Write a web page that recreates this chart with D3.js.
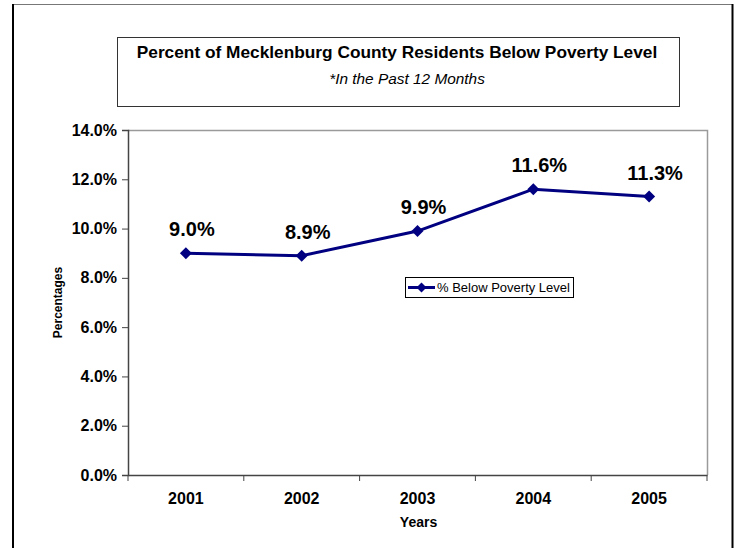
<!DOCTYPE html>
<html>
<head>
<meta charset="utf-8">
<script src="https://cdn.jsdelivr.net/npm/d3@7"></script>
<style>
  html, body { margin: 0; padding: 0; background: #fff; }
  svg { display: block; font-family: "Liberation Sans", Arial, sans-serif; }
</style>
</head>
<body>
<svg id="chart" width="734" height="548"></svg>
<script>
// Poverty rate by year
const years = ["2001", "2002", "2003", "2004", "2005"];
const povertyPct = [9.0, 8.9, 9.9, 11.6, 11.3];
const yTicks = [0, 2, 4, 6, 8, 10, 12, 14];
const titleText = "Percent of Mecklenburg County Residents Below Poverty Level";
const subtitleText = "*In the Past 12 Months";
const seriesName = "% Below Poverty Level";

const svg = d3.select("#chart");
const W = 734, H = 548;
const plot = { left: 128, right: 707, top: 130, bottom: 475 };
const navy = "#000080";
const FONT = "Liberation Sans, Arial, sans-serif";

// outer frame
svg.append("line").attr("x1", 12).attr("x2", 733).attr("y1", 4.5).attr("y2", 4.5)
  .attr("stroke", "#777").attr("stroke-width", 1);
svg.append("line").attr("x1", 13).attr("x2", 13).attr("y1", 4).attr("y2", H)
  .attr("stroke", "#000").attr("stroke-width", 2);
svg.append("line").attr("x1", 732.5).attr("x2", 732.5).attr("y1", 4).attr("y2", H)
  .attr("stroke", "#000").attr("stroke-width", 2);

// title box
svg.append("rect").attr("x", 117.5).attr("y", 37.5).attr("width", 562).attr("height", 69)
  .attr("fill", "#fff").attr("stroke", "#333").attr("stroke-width", 1);
svg.append("text").attr("x", 397).attr("y", 58).attr("text-anchor", "middle")
  .attr("font-size", 17.3).attr("font-weight", "bold").text(titleText);
svg.append("text").attr("x", 407).attr("y", 84).attr("text-anchor", "middle")
  .attr("font-size", 15.4).attr("font-style", "italic").text(subtitleText);

// scales
const x = d3.scaleBand().domain(years).range([plot.left, plot.right]).padding(0);
const y = d3.scaleLinear().domain([0, 14]).range([plot.bottom, plot.top]);
const cx = d => x(d) + x.bandwidth() / 2;

// plot frame (top and right)
svg.append("path")
  .attr("d", `M${plot.left},${plot.top + 0.5}H${plot.right + 0.5}V${plot.bottom}`)
  .attr("fill", "none").attr("stroke", "#9a9a9a").attr("stroke-width", 1.5);

// y axis
const yAxis = svg.append("g").attr("transform", `translate(${plot.left},0)`)
  .call(d3.axisLeft(y).tickValues(yTicks).tickSize(6).tickPadding(5)
    .tickFormat(d => d3.format(".1f")(d) + "%"));
yAxis.select(".domain").attr("stroke", "#444").attr("stroke-width", 1.5);
yAxis.selectAll(".tick line").attr("stroke", "#444");
yAxis.selectAll(".tick text").attr("font-size", 16).attr("font-weight", "bold")
  .attr("fill", "#000").attr("font-family", FONT);

// x axis with ticks on category boundaries
const xAxis = svg.append("g").attr("transform", `translate(0,${plot.bottom})`)
  .call(d3.axisBottom(x).tickSize(0).tickPadding(18));
xAxis.select(".domain").attr("stroke", "#444").attr("stroke-width", 1.5);
xAxis.selectAll(".tick text").attr("font-size", 16).attr("font-weight", "bold")
  .attr("fill", "#000").attr("font-family", FONT);
const bounds = years.map(d => x(d)).concat([x(years[years.length - 1]) + x.bandwidth()]);
xAxis.selectAll(".bnd").data(bounds).enter().append("line")
  .attr("x1", d => d).attr("x2", d => d).attr("y1", 0).attr("y2", 6)
  .attr("stroke", "#444").attr("stroke-width", 1);

// axis titles
svg.append("text").attr("x", (plot.left + plot.right) / 2 + 1).attr("y", 527)
  .attr("text-anchor", "middle").attr("font-size", 14).attr("font-weight", "bold").text("Years");
svg.append("text").attr("transform", `translate(62,${(plot.top + plot.bottom) / 2}) rotate(-90)`)
  .attr("text-anchor", "middle").attr("font-size", 12).attr("font-weight", "bold").text("Percentages");

// series line
const data = years.map((d, i) => ({ year: d, v: povertyPct[i] }));
svg.append("path").datum(data)
  .attr("d", d3.line().x(d => cx(d.year)).y(d => y(d.v)))
  .attr("fill", "none").attr("stroke", navy).attr("stroke-width", 3);

const diamond = (px, py, r) => `M${px},${py - r}L${px + r},${py}L${px},${py + r}L${px - r},${py}Z`;
svg.selectAll(".pt").data(data).enter().append("path")
  .attr("d", d => diamond(cx(d.year), y(d.v), 6)).attr("fill", navy);

// value labels
svg.selectAll(".lbl").data(data).enter().append("text")
  .attr("x", d => cx(d.year) + 6).attr("y", d => y(d.v) - 17)
  .attr("text-anchor", "middle").attr("font-size", 20).attr("font-weight", "bold")
  .text(d => d3.format(".1f")(d.v) + "%");

// legend
const lg = svg.append("g");
lg.append("rect").attr("x", 405.5).attr("y", 277.5).attr("width", 168).attr("height", 20)
  .attr("fill", "#fff").attr("stroke", "#000").attr("stroke-width", 1);
lg.append("line").attr("x1", 408).attr("x2", 435).attr("y1", 287.5).attr("y2", 287.5)
  .attr("stroke", navy).attr("stroke-width", 3);
lg.append("path").attr("d", diamond(421.5, 287.5, 5)).attr("fill", navy);
lg.append("text").attr("x", 437).attr("y", 292).attr("font-size", 13).text(seriesName);
</script>
</body>
</html>
